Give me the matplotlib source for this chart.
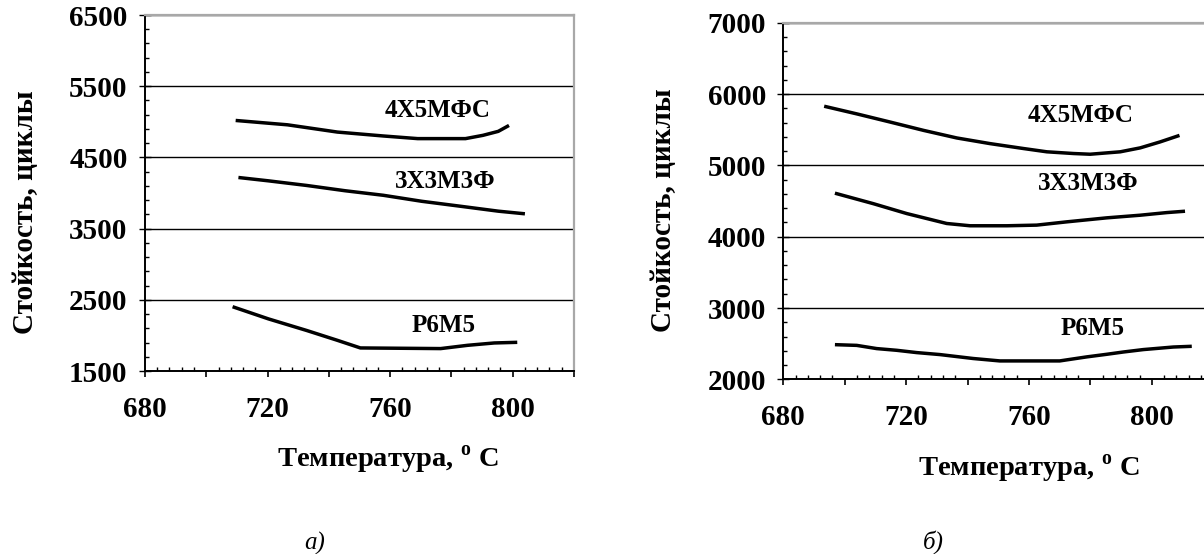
import matplotlib
matplotlib.use("Agg")
import matplotlib.pyplot as plt
from matplotlib.ticker import FixedLocator, FuncFormatter

plt.rcParams['font.family'] = ['Liberation Serif', 'DejaVu Serif']
plt.rcParams['font.weight'] = 'bold'
plt.rcParams['mathtext.fontset'] = 'custom'
plt.rcParams['mathtext.rm'] = 'Liberation Serif:bold'
plt.rcParams['mathtext.bf'] = 'Liberation Serif:bold'

# --- panel a) ---
a_4x5_t = [709.6, 726.5, 742.8, 757.8, 769, 784.6, 790.3, 795.3, 798.8]
a_4x5_v = [5019, 4958, 4856, 4801, 4764, 4764, 4810, 4866, 4949]
a_3x3_t = [710.5, 720.3, 732.8, 745.3, 757.8, 770.3, 782.8, 795.3, 804]
a_3x3_v = [4218, 4171, 4106, 4032, 3968, 3884, 3815, 3745, 3708]
a_p6_t = [708.6, 720.3, 732.8, 742.8, 750.3, 776.5, 785.3, 794, 801.5]
a_p6_v = [2403, 2232, 2069, 1931, 1824, 1815, 1861, 1894, 1903]
a_yticks = [1500, 2500, 3500, 4500, 5500, 6500]

# --- panel б) ---
b_4x5_t = [693.3, 703.9, 714.8, 725.7, 736.5, 747.3, 758.2, 765.8, 774.5, 779.9, 789.7, 796.2, 802.7, 809]
b_4x5_v = [5829, 5722, 5607, 5490, 5384, 5305, 5236, 5190, 5166, 5156, 5190, 5245, 5329, 5420]
b_3x3_t = [696.8, 709.3, 720.2, 733.2, 740.8, 752.8, 762.5, 772.3, 785.3, 796.2, 804.9, 810.8]
b_3x3_v = [4610, 4463, 4324, 4185, 4153, 4153, 4162, 4208, 4264, 4301, 4338, 4357]
b_p6_t = [696.8, 703.9, 710.4, 716.9, 723.4, 731, 741.8, 750.5, 770, 778.7, 785.3, 790.7, 797.2, 807, 813]
b_p6_v = [2486, 2476, 2431, 2407, 2375, 2347, 2292, 2258, 2258, 2314, 2351, 2383, 2417, 2453, 2463]
b_yticks = [2000, 3000, 4000, 5000, 6000, 7000]

x_ticks = [680, 700, 720, 740, 760, 780, 800, 820]
x_labeled = [680, 720, 760, 800]

steel_names = ['4Х5МФС', '3Х3М3Ф', 'Р6М5']
a_label_pos = [(775.6, 5157), (778.1, 4162), (777.5, 2139)]
b_label_pos = [(776.9, 5698), (779.2, 4745), (780.6, 2708)]

y_title = 'Стойкость, циклы'
x_title = 'Температура, $^{\\mathrm{o}}$ C'

fig = plt.figure(figsize=(12.04, 5.54), dpi=100)
ax_a = fig.add_axes([0.1204, 0.3303, 0.3563, 0.6426])
ax_b = fig.add_axes([0.6506, 0.3153, 0.3571, 0.6437])


def style_axis(ax, yticks):
    ax.set_xlim(680, 820)
    ax.set_ylim(yticks[0], yticks[-1])
    ax.xaxis.set_major_locator(FixedLocator(x_ticks))
    ax.xaxis.set_major_formatter(FuncFormatter(lambda v, p: f"{int(round(v))}" if int(round(v)) in x_labeled else ""))
    ax.xaxis.set_minor_locator(FixedLocator(list(range(680, 821, 4))))
    ax.yaxis.set_major_locator(FixedLocator(yticks))
    ax.yaxis.set_minor_locator(FixedLocator(list(range(yticks[0], yticks[-1] + 1, 200))))
    ax.yaxis.set_major_formatter(FuncFormatter(lambda v, p: f"{int(round(v))}"))
    ax.tick_params(axis='x', which='major', direction='out', length=4, width=1.2, pad=14, labelsize=21)
    ax.tick_params(axis='x', which='minor', direction='in', length=3, width=1.0)
    ax.tick_params(axis='y', which='major', direction='inout', length=9, width=1.0, pad=8, labelsize=21)
    ax.tick_params(axis='y', which='minor', direction='in', length=3, width=1.0)
    ax.grid(axis='y', which='major', color='black', linewidth=1.0)
    ax.spines['left'].set_linewidth(1.4)
    ax.spines['bottom'].set_linewidth(1.4)
    ax.spines['top'].set_color('#a8a8a8')
    ax.spines['top'].set_linewidth(1.6)
    ax.spines['right'].set_color('#a8a8a8')
    ax.spines['right'].set_linewidth(1.6)
    for lab in ax.get_xticklabels() + ax.get_yticklabels():
        lab.set_fontweight('bold')


style_axis(ax_a, a_yticks)
style_axis(ax_b, b_yticks)

for t, v in [(a_4x5_t, a_4x5_v), (a_3x3_t, a_3x3_v), (a_p6_t, a_p6_v)]:
    ax_a.plot(t, v, color='black', linewidth=2.5, solid_capstyle='butt')
for t, v in [(b_4x5_t, b_4x5_v), (b_3x3_t, b_3x3_v), (b_p6_t, b_p6_v)]:
    ax_b.plot(t, v, color='black', linewidth=2.5, solid_capstyle='butt')

for name, (x, y) in zip(steel_names, a_label_pos):
    ax_a.text(x, y, name, fontsize=18, fontweight='bold', ha='center', va='center')
for name, (x, y) in zip(steel_names, b_label_pos):
    ax_b.text(x, y, name, fontsize=18, fontweight='bold', ha='center', va='center')

fig.text(0.0208, 0.617, y_title, rotation=90, fontsize=21, fontweight='bold', ha='center', va='center')
fig.text(0.5507, 0.621, y_title, rotation=90, fontsize=21, fontweight='bold', ha='center', va='center')
fig.text(0.3222, 0.1697, x_title, fontsize=20.5, fontweight='bold', ha='center', va='center')
fig.text(0.8546, 0.1534, x_title, fontsize=20.5, fontweight='bold', ha='center', va='center')

fig.text(0.2616, 0.0199, 'а)', fontsize=18, fontstyle='italic', fontweight='normal', ha='center', va='center')
fig.text(0.775, 0.0217, 'б)', fontsize=18, fontstyle='italic', fontweight='normal', ha='center', va='center')

fig.savefig('out.png', dpi=100, facecolor='white')
